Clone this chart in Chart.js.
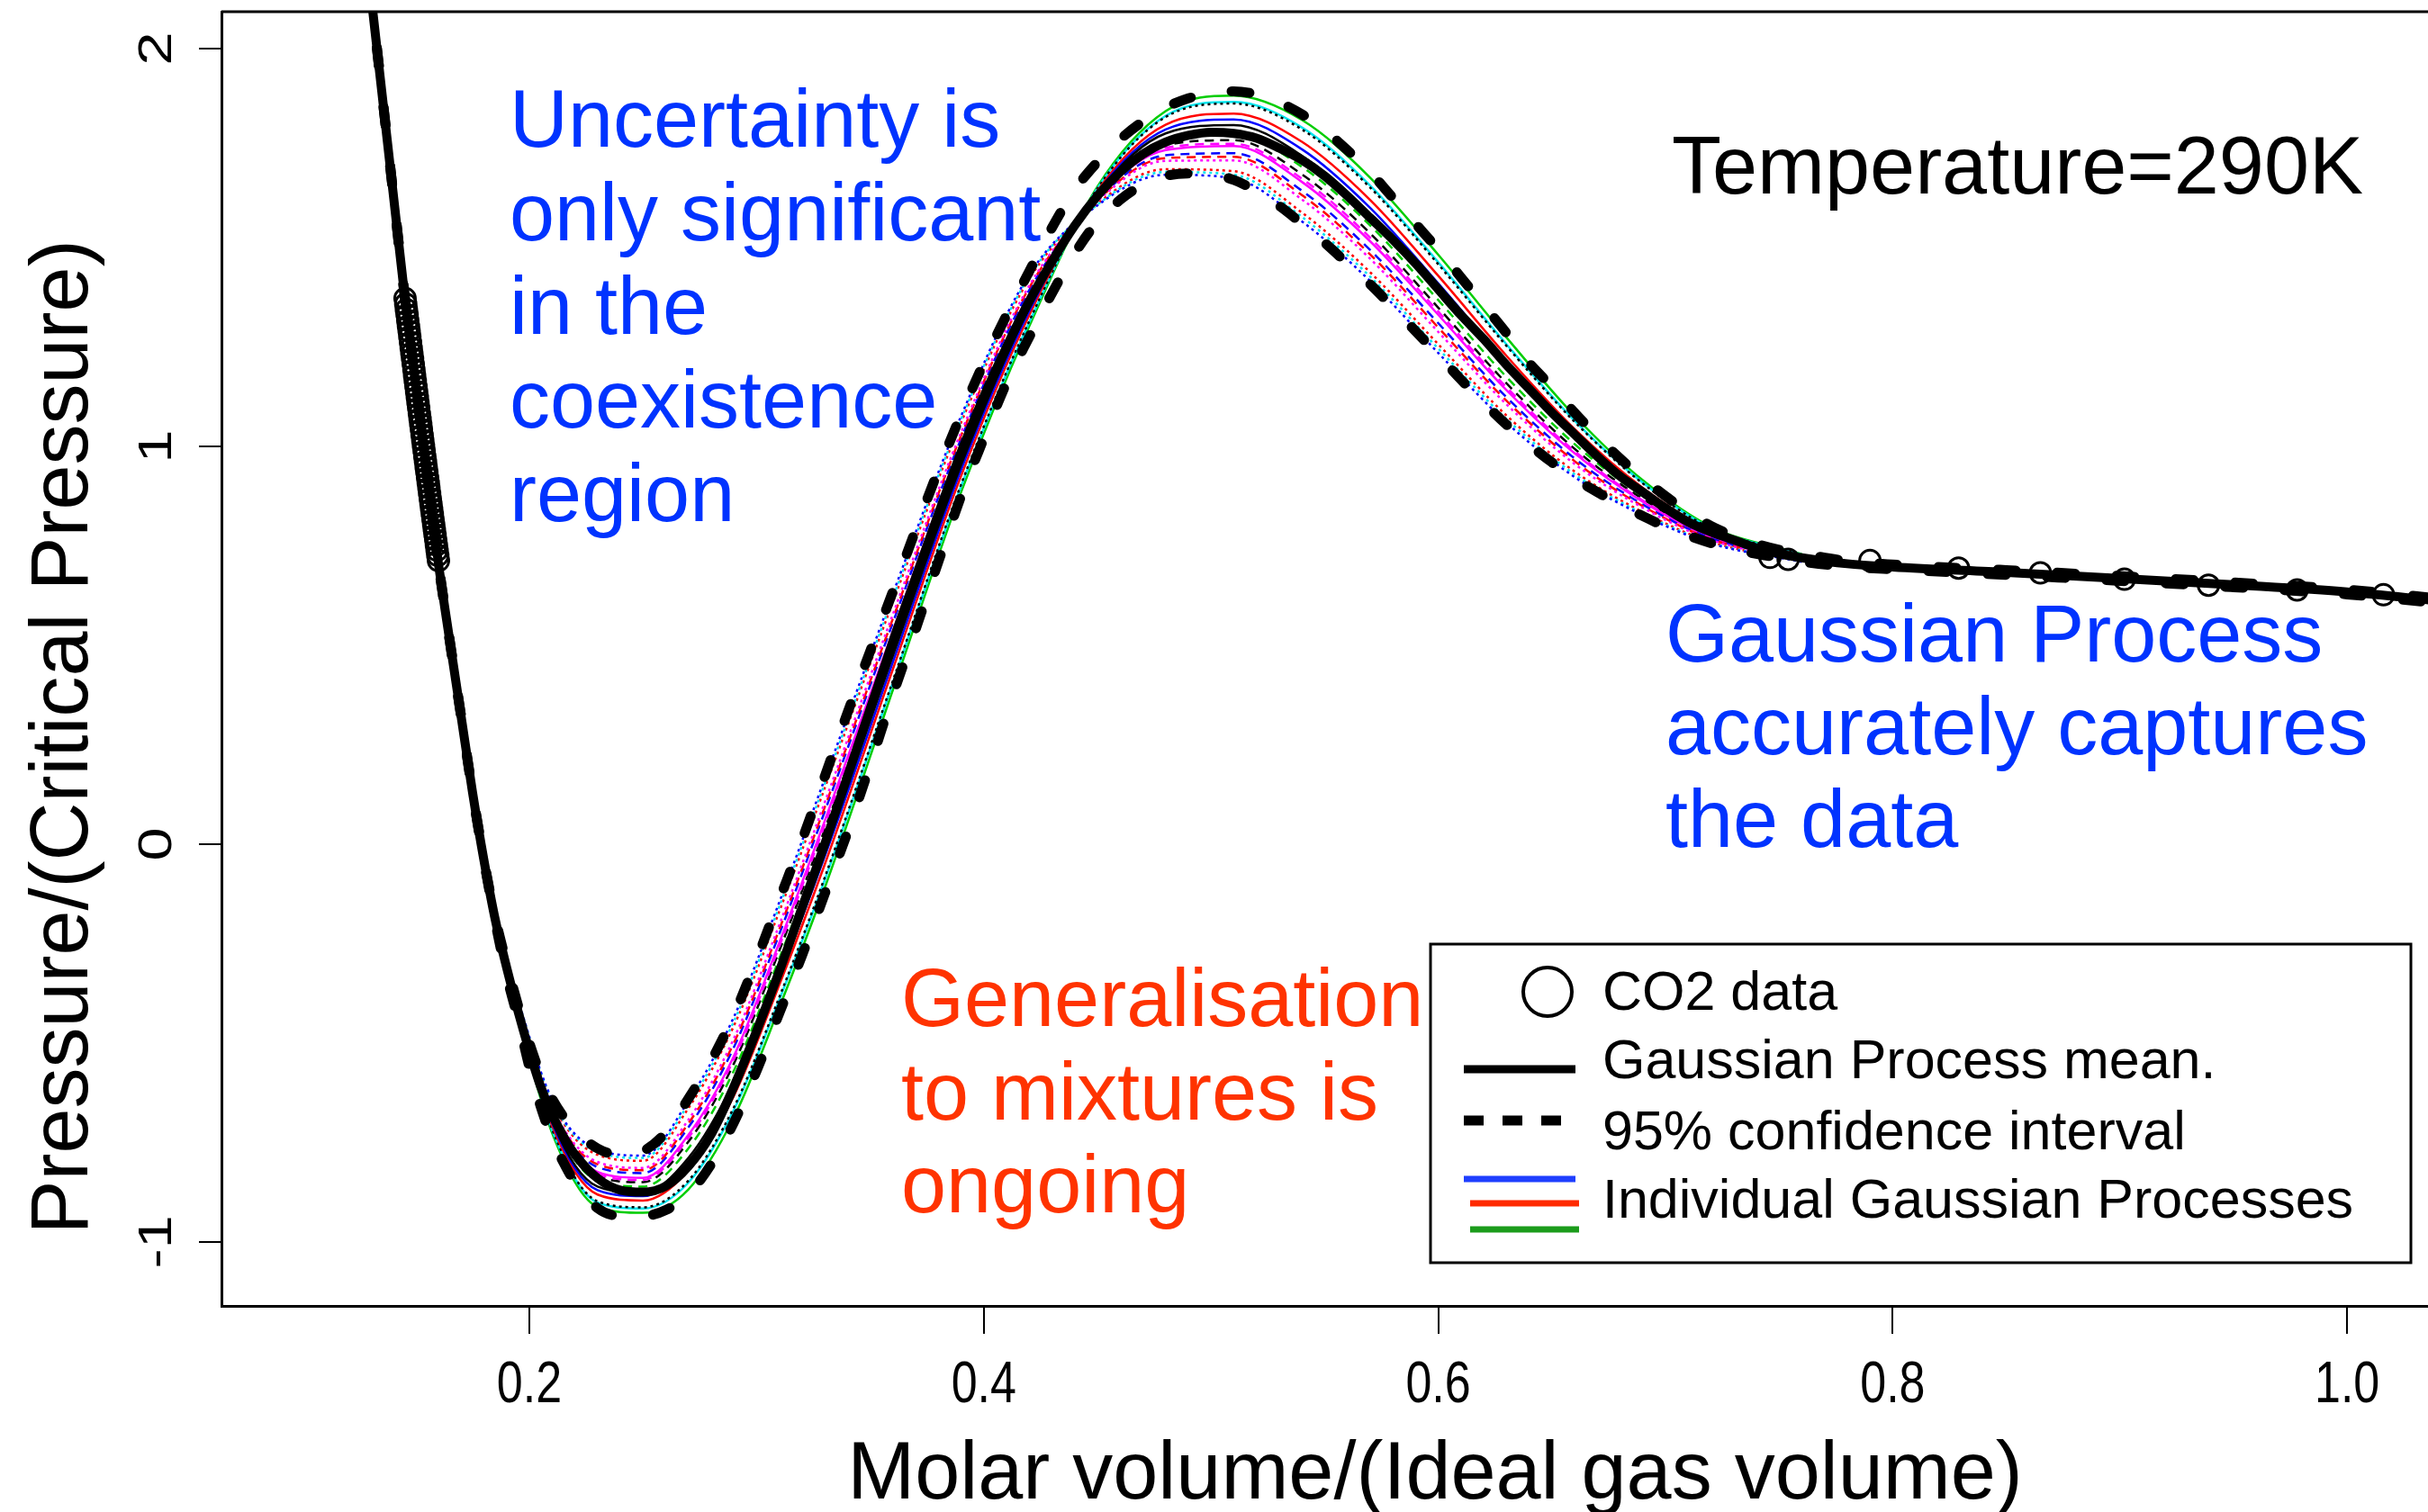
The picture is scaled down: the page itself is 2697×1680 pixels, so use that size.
<!DOCTYPE html>
<html>
<head>
<meta charset="utf-8">
<title>CO2 isotherm, 290K</title>
<script src="https://cdn.jsdelivr.net/npm/chart.js@4.4.1/dist/chart.umd.min.js"></script>
<style>
  html, body { margin: 0; padding: 0; background: #fff; overflow: hidden; }
  canvas { display: block; }
</style>
</head>
<body>
<canvas id="iso" width="2697" height="1680"></canvas>
<script>
// molar volume grid for the GP mean and the 95% band
const fitX = [0.130, 0.135, 0.140, 0.145, 0.150, 0.155, 0.160, 0.165, 0.170, 0.175,
  0.180, 0.185, 0.190, 0.195, 0.200, 0.205, 0.210, 0.215, 0.220, 0.230,
  0.240, 0.250, 0.260, 0.270, 0.280, 0.290, 0.300, 0.310, 0.320, 0.330,
  0.340, 0.350, 0.360, 0.370, 0.380, 0.390, 0.400, 0.410, 0.420, 0.430,
  0.440, 0.450, 0.460, 0.470, 0.480, 0.490, 0.500, 0.510, 0.520, 0.530,
  0.540, 0.550, 0.560, 0.570, 0.580, 0.590, 0.600, 0.610, 0.620, 0.630,
  0.640, 0.650, 0.660, 0.670, 0.680, 0.690, 0.700, 0.710, 0.720, 0.730,
  0.740, 0.750, 0.760, 0.780, 0.800, 0.850, 0.900, 0.950, 1.000, 1.040];

const meanP = [2.150, 1.895, 1.640, 1.385, 1.155, 0.930, 0.705, 0.510, 0.320, 0.130,
  -0.040, -0.190, -0.310, -0.420, -0.520, -0.610, -0.680, -0.735, -0.780, -0.840,
  -0.870, -0.875, -0.860, -0.810, -0.730, -0.610, -0.470, -0.320, -0.160, 0.000,
  0.170, 0.340, 0.510, 0.670, 0.830, 0.985, 1.125, 1.250, 1.365, 1.465,
  1.555, 1.630, 1.690, 1.735, 1.765, 1.782, 1.790, 1.787, 1.775, 1.750,
  1.720, 1.680, 1.630, 1.575, 1.520, 1.460, 1.395, 1.330, 1.270, 1.205,
  1.145, 1.085, 1.030, 0.975, 0.925, 0.885, 0.845, 0.810, 0.785, 0.765,
  0.745, 0.730, 0.720, 0.705, 0.697, 0.683, 0.668, 0.652, 0.634, 0.612];

const upperP = [2.150, 1.895, 1.640, 1.385, 1.155, 0.930, 0.705, 0.510, 0.320, 0.130,
  -0.040, -0.185, -0.300, -0.405, -0.500, -0.580, -0.640, -0.685, -0.720, -0.765,
  -0.782, -0.772, -0.725, -0.640, -0.545, -0.430, -0.290, -0.140, 0.010, 0.170,
  0.330, 0.485, 0.635, 0.790, 0.940, 1.080, 1.210, 1.330, 1.440, 1.550,
  1.645, 1.715, 1.772, 1.817, 1.852, 1.875, 1.890, 1.893, 1.885, 1.865,
  1.835, 1.795, 1.745, 1.690, 1.625, 1.560, 1.495, 1.425, 1.355, 1.285,
  1.210, 1.150, 1.085, 1.025, 0.970, 0.920, 0.875, 0.835, 0.800, 0.775,
  0.755, 0.740, 0.730, 0.712, 0.703, 0.689, 0.674, 0.658, 0.640, 0.618];

const lowerP = [2.150, 1.895, 1.640, 1.385, 1.155, 0.930, 0.705, 0.510, 0.320, 0.130,
  -0.040, -0.195, -0.330, -0.440, -0.560, -0.660, -0.740, -0.800, -0.850, -0.915,
  -0.935, -0.935, -0.920, -0.880, -0.805, -0.700, -0.570, -0.425, -0.280, -0.125,
  0.030, 0.200, 0.375, 0.540, 0.710, 0.875, 1.020, 1.160, 1.275, 1.385,
  1.485, 1.565, 1.620, 1.658, 1.680, 1.686, 1.684, 1.670, 1.642, 1.605,
  1.560, 1.512, 1.460, 1.408, 1.350, 1.290, 1.230, 1.168, 1.110, 1.055,
  1.005, 0.960, 0.920, 0.885, 0.853, 0.825, 0.798, 0.776, 0.757, 0.742,
  0.730, 0.720, 0.710, 0.698, 0.691, 0.677, 0.662, 0.646, 0.628, 0.606];

// individual Gaussian processes on a coarser grid
const gpX = [0.19, 0.21, 0.23, 0.25, 0.27, 0.29, 0.31, 0.33, 0.36, 0.39, 0.42,
  0.45, 0.48, 0.51, 0.54, 0.57, 0.60, 0.63, 0.66, 0.69, 0.72, 0.76];

const gpBlueDot = [-0.300, -0.642, -0.768, -0.783, -0.645, -0.435, -0.146, 0.164, 0.630, 1.076, 1.432,
  1.606, 1.683, 1.674, 1.566, 1.416, 1.235, 1.060, 0.923, 0.827, 0.756, 0.710];
const gpCyanDot = [-0.302, -0.645, -0.774, -0.789, -0.654, -0.446, -0.157, 0.152, 0.619, 1.068, 1.427,
  1.608, 1.690, 1.683, 1.577, 1.427, 1.246, 1.069, 0.930, 0.831, 0.758, 0.711];
const gpRedDot = [-0.303, -0.649, -0.781, -0.796, -0.664, -0.457, -0.169, 0.141, 0.609, 1.060, 1.421,
  1.610, 1.697, 1.692, 1.588, 1.438, 1.257, 1.078, 0.937, 0.835, 0.760, 0.712];
const gpMagentaDot = [-0.307, -0.660, -0.799, -0.814, -0.693, -0.489, -0.203, 0.105, 0.578, 1.035, 1.404,
  1.616, 1.718, 1.719, 1.621, 1.472, 1.288, 1.106, 0.956, 0.846, 0.765, 0.714];
const gpRedDash = [-0.308, -0.663, -0.805, -0.820, -0.702, -0.500, -0.214, 0.093, 0.567, 1.027, 1.399,
  1.618, 1.725, 1.728, 1.632, 1.483, 1.299, 1.115, 0.963, 0.850, 0.767, 0.715];
const gpBlueDash = [-0.309, -0.667, -0.812, -0.827, -0.712, -0.511, -0.226, 0.082, 0.557, 1.019, 1.393,
  1.620, 1.732, 1.737, 1.643, 1.494, 1.310, 1.124, 0.970, 0.854, 0.769, 0.716];
const gpMagenta = [-0.311, -0.674, -0.824, -0.839, -0.731, -0.533, -0.248, 0.058, 0.536, 1.002, 1.382,
  1.624, 1.745, 1.755, 1.665, 1.516, 1.331, 1.142, 0.983, 0.861, 0.772, 0.718];
const gpMagentaDash = [-0.312, -0.677, -0.829, -0.844, -0.738, -0.541, -0.257, 0.049, 0.528, 0.996, 1.378,
  1.626, 1.751, 1.761, 1.673, 1.525, 1.339, 1.149, 0.988, 0.864, 0.774, 0.718];
const gpBlackDash = [-0.314, -0.681, -0.835, -0.850, -0.748, -0.552, -0.268, 0.037, 0.518, 0.988, 1.372,
  1.628, 1.757, 1.770, 1.684, 1.536, 1.349, 1.159, 0.994, 0.868, 0.775, 0.719];
const gpGreenDash = [-0.316, -0.687, -0.846, -0.861, -0.765, -0.570, -0.288, 0.017, 0.500, 0.973, 1.362,
  1.631, 1.769, 1.786, 1.703, 1.556, 1.368, 1.175, 1.006, 0.874, 0.778, 0.720];
const gpBlack = [-0.319, -0.696, -0.861, -0.876, -0.789, -0.597, -0.317, -0.013, 0.474, 0.953, 1.348,
  1.636, 1.787, 1.808, 1.731, 1.584, 1.394, 1.198, 1.022, 0.884, 0.783, 0.722];
const gpBlue = [-0.320, -0.701, -0.870, -0.885, -0.803, -0.614, -0.334, -0.031, 0.458, 0.941, 1.340,
  1.639, 1.797, 1.822, 1.747, 1.600, 1.410, 1.211, 1.032, 0.890, 0.786, 0.724];
const gpRed = [-0.323, -0.708, -0.881, -0.896, -0.820, -0.633, -0.354, -0.051, 0.440, 0.926, 1.330,
  1.643, 1.809, 1.837, 1.766, 1.620, 1.429, 1.228, 1.044, 0.896, 0.789, 0.725];
const gpBlackDot = [-0.326, -0.717, -0.898, -0.913, -0.846, -0.662, -0.385, -0.084, 0.411, 0.904, 1.315,
  1.648, 1.828, 1.862, 1.797, 1.651, 1.458, 1.253, 1.062, 0.907, 0.794, 0.727];
const gpCyan = [-0.326, -0.719, -0.901, -0.916, -0.851, -0.668, -0.391, -0.090, 0.406, 0.900, 1.312,
  1.649, 1.831, 1.866, 1.802, 1.656, 1.463, 1.257, 1.065, 0.909, 0.795, 0.728];
const gpGreen = [-0.329, -0.726, -0.912, -0.927, -0.868, -0.687, -0.411, -0.110, 0.388, 0.885, 1.302,
  1.653, 1.843, 1.882, 1.821, 1.676, 1.482, 1.274, 1.077, 0.915, 0.798, 0.729];

// CO2 measurements: liquid branch and vapour branch
const co2X = [0.1453, 0.1456, 0.1459, 0.1462, 0.1465, 0.1468, 0.1471, 0.1474, 0.1477, 0.1480,
  0.1483, 0.1486, 0.1489, 0.1492, 0.1495, 0.1498, 0.1501, 0.1504, 0.1507, 0.1510,
  0.1513, 0.1516, 0.1519, 0.1522, 0.1525, 0.1528, 0.1531, 0.1534, 0.1537, 0.1540,
  0.1543, 0.1546, 0.1549, 0.1552, 0.1555, 0.1558, 0.1561, 0.1564, 0.1567, 0.1570,
  0.1573, 0.1576, 0.1579, 0.1582, 0.1585, 0.1588, 0.1591, 0.1594, 0.1597, 0.1600,
  0.746, 0.754, 0.790, 0.829, 0.865, 0.902, 0.939, 0.978, 1.016];
const co2P = [1.372, 1.358, 1.344, 1.331, 1.317, 1.303, 1.290, 1.276, 1.262, 1.248,
  1.234, 1.221, 1.207, 1.193, 1.179, 1.165, 1.151, 1.138, 1.124, 1.110,
  1.097, 1.083, 1.070, 1.056, 1.043, 1.029, 1.016, 1.002, 0.989, 0.975,
  0.962, 0.948, 0.935, 0.922, 0.909, 0.896, 0.882, 0.869, 0.856, 0.843,
  0.830, 0.817, 0.804, 0.791, 0.778, 0.765, 0.752, 0.739, 0.726, 0.713,
  0.721, 0.716, 0.713, 0.694, 0.682, 0.666, 0.651, 0.639, 0.627];

const xTicks = [0.2, 0.4, 0.6, 0.8, 1.0];
const xTickLabels = ['0.2', '0.4', '0.6', '0.8', '1.0'];
const yTicks = [-1, 0, 1, 2];
const yTickLabels = ['-1', '0', '1', '2'];

const xTitle = 'Molar volume/(Ideal gas volume)';
const yTitle = 'Pressure/(Critical Pressure)';
const tempLabel = 'Temperature=290K';
const noteUncertainty = ['Uncertainty is', 'only significant', 'in the', 'coexistence', 'region'];
const noteCapture = ['Gaussian Process', 'accurately captures', 'the data'];
const noteMixtures = ['Generalisation', 'to mixtures is', 'ongoing'];
const legendLabels = ['CO2 data', 'Gaussian Process mean.', '95% confidence interval', 'Individual Gaussian Processes'];

const BLUE = '#0033ff';
const RED = '#ff3300';
const SANS = '"Liberation Sans", Arial, Helvetica, sans-serif';

const pts = (xs, ys) => xs.map((x, i) => ({ x: x, y: ys[i] }));

const DOT = [3, 4];
const DASH = [10, 7];
const gpLines = [
  [gpBlueDot, '#0000ff', DOT], [gpCyanDot, '#00e5ee', DOT], [gpRedDot, '#ff0000', DOT],
  [gpMagentaDot, '#ff00ff', DOT], [gpRedDash, '#ff0000', DASH], [gpBlueDash, '#0000ff', DASH],
  [gpMagenta, '#ff00ff', []], [gpMagentaDash, '#ff00ff', DASH], [gpBlackDash, '#000000', DASH],
  [gpGreenDash, '#00cd00', DASH], [gpBlack, '#000000', []], [gpBlue, '#0000ff', []],
  [gpRed, '#ff0000', []], [gpBlackDot, '#000000', DOT], [gpCyan, '#00e5ee', []],
  [gpGreen, '#00cd00', []]
];

const curve = (data, color, width, dash) => ({
  type: 'scatter', data: data, showLine: true, borderColor: color, borderWidth: width,
  borderDash: dash, pointRadius: 0, cubicInterpolationMode: 'monotone', fill: false
});

const datasets = [
  { type: 'scatter', data: pts(co2X, co2P), showLine: false, pointRadius: 11.5,
    pointBorderWidth: 3, pointBorderColor: '#000', pointBackgroundColor: 'rgba(0,0,0,0)' },
  curve(pts(fitX, meanP), '#000', 10, []),
  Object.assign(curve(pts(fitX, upperP), '#000', 11, [20, 46]), { borderCapStyle: 'round' }),
  Object.assign(curve(pts(fitX, lowerP), '#000', 11, [20, 46]), { borderCapStyle: 'round' })
].concat(gpLines.map(g => curve(pts(gpX, g[0]), g[1], 2.5, g[2])));

function textLines(ctx, lines, x, y0, step) {
  lines.forEach((t, i) => ctx.fillText(t, x, y0 + i * step));
}

const overlay = {
  id: 'overlay',
  afterDraw(chart) {
    const ctx = chart.ctx;
    const a = chart.chartArea;
    const xs = chart.scales.x, ys = chart.scales.y;
    ctx.save();

    // top edge of the plot box
    ctx.strokeStyle = '#000';
    ctx.lineWidth = 3;
    ctx.beginPath();
    ctx.moveTo(a.left, a.top);
    ctx.lineTo(a.right, a.top);
    ctx.stroke();

    // tick labels (R-style, y labels parallel to the axis)
    ctx.fillStyle = '#000';
    ctx.font = '52px ' + SANS;
    ctx.textAlign = 'center';
    ctx.textBaseline = 'alphabetic';
    xTicks.forEach((v, i) => {
      ctx.save();
      ctx.translate(xs.getPixelForValue(v), 1558);
      ctx.scale(1, 1.25);
      ctx.fillText(xTickLabels[i], 0, 0);
      ctx.restore();
    });
    yTicks.forEach((v, i) => {
      ctx.save();
      ctx.translate(190, ys.getPixelForValue(v));
      ctx.rotate(-Math.PI / 2);
      ctx.scale(1.28, 1);
      ctx.fillText(yTickLabels[i], 0, 0);
      ctx.restore();
    });

    // axis titles
    ctx.font = '90px ' + SANS;
    ctx.fillText(xTitle, 1594, 1665);
    ctx.save();
    ctx.translate(97, 819);
    ctx.rotate(-Math.PI / 2);
    ctx.fillText(yTitle, 0, 0);
    ctx.restore();

    // annotations
    ctx.textAlign = 'left';
    ctx.fillText(tempLabel, 1857, 215);
    ctx.fillStyle = BLUE;
    textLines(ctx, noteUncertainty, 566, 163, 104);
    textLines(ctx, noteCapture, 1850, 735, 103);
    ctx.fillStyle = RED;
    textLines(ctx, noteMixtures, 1001, 1140, 103.5);

    // legend
    ctx.fillStyle = '#fff';
    ctx.fillRect(1589, 1049, 1089, 354);
    ctx.strokeStyle = '#000';
    ctx.lineWidth = 3;
    ctx.strokeRect(1589, 1049, 1089, 354);

    ctx.lineWidth = 4;
    ctx.beginPath();
    ctx.arc(1719, 1102, 27, 0, 2 * Math.PI);
    ctx.stroke();

    const seg = (x1, x2, y, w, color, dash) => {
      ctx.strokeStyle = color;
      ctx.lineWidth = w;
      ctx.setLineDash(dash || []);
      ctx.beginPath();
      ctx.moveTo(x1, y);
      ctx.lineTo(x2, y);
      ctx.stroke();
      ctx.setLineDash([]);
    };
    seg(1626, 1750, 1188, 9, '#000');
    seg(1626, 1736, 1245, 11, '#000', [22, 21]);
    seg(1626, 1750, 1310, 7, '#1f3fff');
    seg(1633, 1754, 1337, 7, '#ff2a00');
    seg(1633, 1754, 1366, 7, '#1c9c1c');

    ctx.fillStyle = '#000';
    ctx.font = '61px ' + SANS;
    const legendBase = [1122, 1198, 1277, 1353];
    legendLabels.forEach((t, i) => ctx.fillText(t, 1780, legendBase[i]));

    ctx.restore();
  }
};

new Chart(document.getElementById('iso'), {
  type: 'scatter',
  data: { datasets: datasets },
  options: {
    responsive: false,
    animation: false,
    devicePixelRatio: 1,
    layout: { autoPadding: false, padding: { top: 13, right: 0, bottom: 0, left: 0 } },
    plugins: { legend: { display: false }, tooltip: { enabled: false } },
    elements: { line: { capBezierPoints: false } },
    scales: {
      x: {
        type: 'linear', min: 0.0645, max: 1.0356,
        afterBuildTicks(s) { s.ticks = xTicks.map(v => ({ value: v })); },
        afterFit(s) { s.height = 229; },
        ticks: { display: false },
        grid: { drawOnChartArea: false, drawTicks: true, tickLength: 31, color: '#000', lineWidth: 2 },
        border: { display: true, color: '#000', width: 3 }
      },
      y: {
        type: 'linear', min: -1.161, max: 2.093,
        afterBuildTicks(s) { s.ticks = yTicks.map(v => ({ value: v })); },
        afterFit(s) { s.width = 246; },
        ticks: { display: false },
        grid: { drawOnChartArea: false, drawTicks: true, tickLength: 25, color: '#000', lineWidth: 2 },
        border: { display: true, color: '#000', width: 3 }
      }
    }
  },
  plugins: [overlay]
});
</script>
</body>
</html>
